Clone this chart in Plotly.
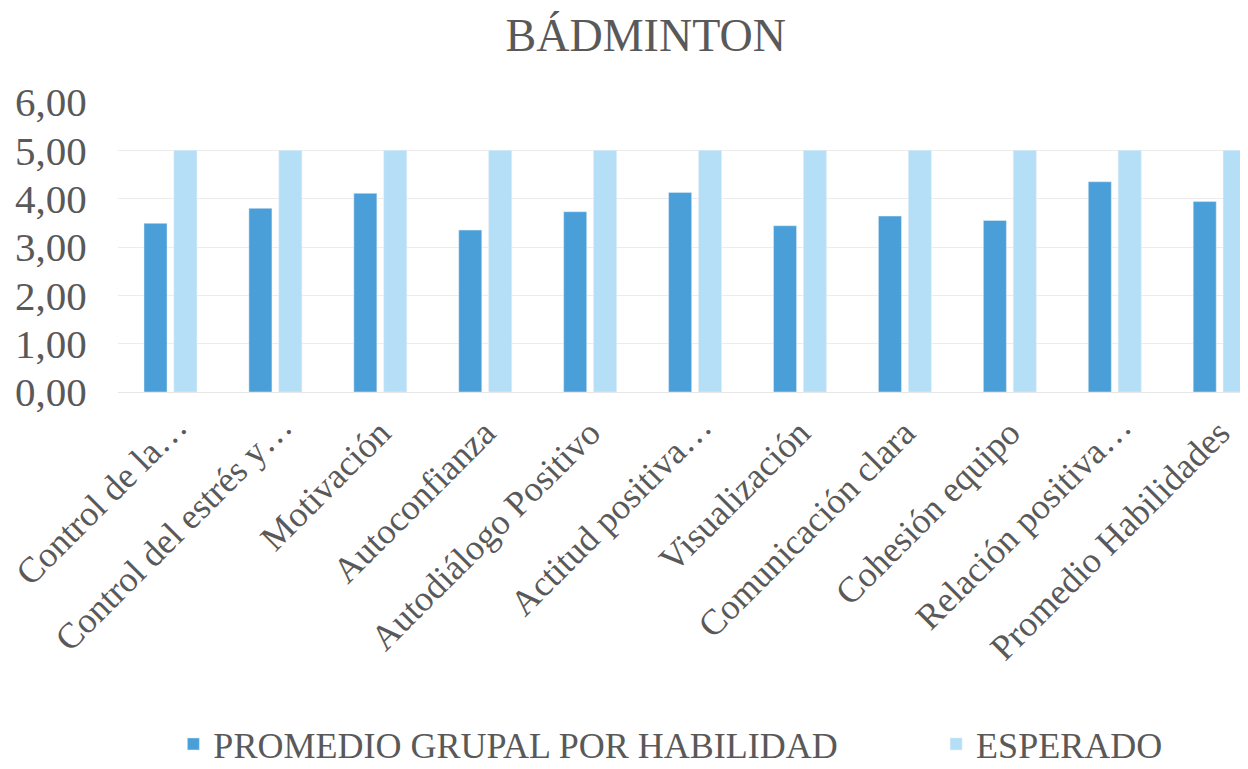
import plotly.graph_objects as go

categories = ['Control de la…', 'Control del estrés y…', 'Motivación', 'Autoconfianza',
              'Autodiálogo Positivo', 'Actitud positiva…', 'Visualización',
              'Comunicación clara', 'Cohesión equipo', 'Relación positiva…',
              'Promedio Habilidades']
promedio = [3.49, 3.80, 4.11, 3.35, 3.73, 4.13, 3.44, 3.64, 3.55, 4.35, 3.94]
esperado = [5.00] * 11
y_ticks = [0, 1, 2, 3, 4, 5, 6]
y_tick_labels = ['0,00', '1,00', '2,00', '3,00', '4,00', '5,00', '6,00']

FONT = 'Liberation Serif'
GRAY = '#595959'

# Excel places truncated ("…") labels further along; pad the full labels slightly
tick_text = [c if c.endswith('…') else c + '\u00a0' for c in categories]

fig = go.Figure()
fig.add_trace(go.Bar(x=categories, y=promedio, name='PROMEDIO GRUPAL POR HABILIDAD',
                     marker_color='#4a9fd8', legend='legend'))
fig.add_trace(go.Bar(x=categories, y=esperado, name='ESPERADO',
                     marker_color='#b5dff7', legend='legend2'))

leg_common = dict(orientation='h', xanchor='left', y=-1.214, yanchor='middle',
                  font=dict(family=FONT, size=36, color=GRAY),
                  itemwidth=30, bgcolor='rgba(0,0,0,0)')

fig.update_layout(
    width=1248, height=769,
    paper_bgcolor='white', plot_bgcolor='white',
    barmode='group', bargap=0.43, bargroupgap=0.23,
    margin=dict(l=110, r=8, t=94, b=385, autoexpand=False),
    title=dict(text='BÁDMINTON', x=0.511, xanchor='center', y=0.965, yanchor='middle',
               font=dict(family=FONT, size=46, color=GRAY)),
    font=dict(family=FONT, color=GRAY),
    showlegend=True,
    legend=dict(x=0.049, **leg_common),
    legend2=dict(x=0.724, **leg_common),
)
fig.update_xaxes(tickangle=-45, tickfont=dict(family=FONT, size=36, color=GRAY),
                 tickvals=categories, ticktext=tick_text,
                 range=[-0.5, 10.27], showline=True, linecolor='#e6e6e6',
                 ticks='outside', ticklen=4, tickcolor='rgba(0,0,0,0)',
                 ticklabelshift=6, ticklabelstandoff=-6,
                 automargin=False)
fig.update_yaxes(range=[0, 6], tickvals=y_ticks, ticktext=y_tick_labels,
                 tickfont=dict(family=FONT, size=41, color=GRAY),
                 showgrid=True, gridcolor='#ececec', zeroline=False,
                 ticks='outside', ticklen=22, tickcolor='rgba(0,0,0,0)',
                 automargin=False)

fig.write_html('out.html')
